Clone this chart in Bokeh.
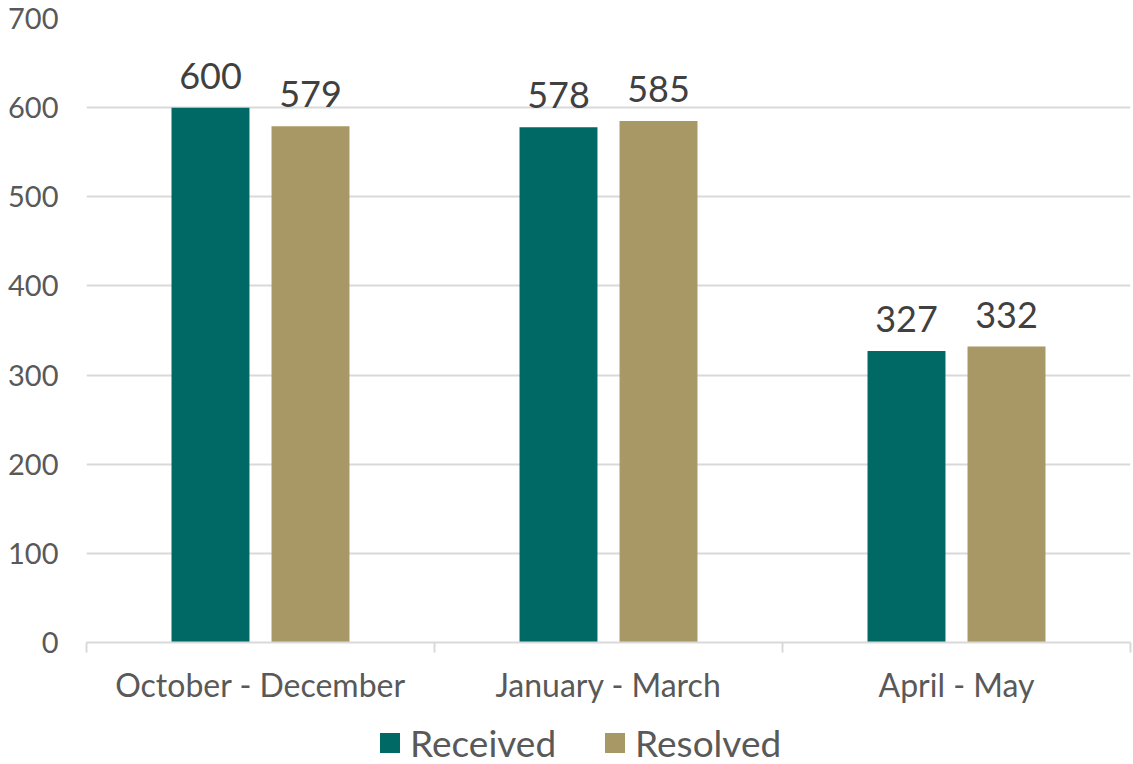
import numpy as np
from bokeh.plotting import figure
from bokeh.layouts import column
from bokeh.models import ColumnDataSource, FixedTicker, Legend, LegendItem, LabelSet
from bokeh.core.properties import value
from bokeh.embed import file_html
from bokeh.resources import INLINE

categories = ["October - December", "January - March", "April - May"]
received = [600, 578, 327]
resolved = [579, 585, 332]
series_names = ["Received", "Resolved"]
y_ticks = [0, 100, 200, 300, 400, 500, 600, 700]

TEAL = "#006865"
TAN = "#A89865"
GRID = "#D9D9D9"
AXIS_TXT = "#595959"
LABEL_TXT = "#404040"
FONT = "Lato"

centers = np.arange(len(categories)) + 0.5
off = 0.1437
bw = 0.224

src_a = ColumnDataSource(dict(x=centers - off, top=received, lab=[str(v) for v in received]))
src_b = ColumnDataSource(dict(x=centers + off, top=resolved, lab=[str(v) for v in resolved]))

p = figure(width=1133, height=706, x_range=(0, 3), y_range=(0, 700),
           output_backend="svg", toolbar_location=None,
           min_border_left=86, min_border_right=3, min_border_top=18, min_border_bottom=64)
p.outline_line_color = None
p.background_fill_color = "white"
p.border_fill_color = "white"

ra = p.vbar(x="x", top="top", width=bw, source=src_a, fill_color=TEAL, line_color=None)
rb = p.vbar(x="x", top="top", width=bw, source=src_b, fill_color=TAN, line_color=None)

for s in (src_a, src_b):
    p.add_layout(LabelSet(x="x", y="top", text="lab", source=s, text_align="center",
                          text_baseline="bottom", y_offset=19, text_font=value(FONT),
                          text_font_size="36px", text_color=LABEL_TXT))

# x axis
xt = FixedTicker(ticks=list(centers), minor_ticks=list(range(len(categories) + 1)))
p.xaxis.ticker = xt
p.xaxis.major_label_overrides = {float(c): n for c, n in zip(centers, categories)}
p.xaxis.major_tick_out = 0
p.xaxis.major_tick_in = 0
p.xaxis.minor_tick_out = 10
p.xaxis.minor_tick_in = 0
p.xaxis.minor_tick_line_color = GRID
p.xaxis.minor_tick_line_width = 2
p.xaxis.axis_line_color = GRID
p.xaxis.axis_line_width = 2
p.xaxis.major_label_text_font = FONT
p.xaxis.major_label_text_font_size = "32px"
p.xaxis.major_label_text_color = AXIS_TXT
p.xaxis.major_label_standoff = 12
p.xgrid.grid_line_color = None

# y axis
p.yaxis.ticker = FixedTicker(ticks=y_ticks)
p.yaxis.axis_line_color = None
p.yaxis.major_tick_line_color = None
p.yaxis.minor_tick_line_color = None
p.yaxis.major_label_text_font = FONT
p.yaxis.major_label_text_font_size = "29px"
p.yaxis.major_label_text_color = AXIS_TXT
p.yaxis.major_label_standoff = 22
p.ygrid.ticker = FixedTicker(ticks=y_ticks)
p.ygrid.grid_line_color = GRID
p.ygrid.grid_line_width = 2

# legend strip
pl = figure(width=1133, height=58, x_range=(0, 1), y_range=(0, 1),
            output_backend="svg", toolbar_location=None,
            min_border_left=0, min_border_right=0, min_border_top=0, min_border_bottom=0)
pl.axis.visible = False
pl.grid.grid_line_color = None
pl.outline_line_color = None
# zero-height placeholders: only their colours are used, for the legend swatches
la = pl.vbar(x="x", top="top", width=0.01, source=ColumnDataSource(dict(x=[0.5], top=[0])),
             fill_color=TEAL, line_color=None)
lb = pl.vbar(x="x", top="top", width=0.01, source=ColumnDataSource(dict(x=[0.5], top=[0])),
             fill_color=TAN, line_color=None)
legend = Legend(items=[LegendItem(label=series_names[0], renderers=[la]),
                       LegendItem(label=series_names[1], renderers=[lb])],
                orientation="horizontal", location=(291, -1),
                glyph_width=25, glyph_height=25, label_standoff=8, spacing=46,
                padding=0, margin=0, border_line_color=None, background_fill_alpha=0,
                label_text_font=FONT, label_text_font_size="37px", label_text_color=AXIS_TXT,
                label_text_line_height=1.0)
pl.add_layout(legend, "center")

layout = column(p, pl, spacing=0)
open("out.html", "w").write(file_html(layout, INLINE))
